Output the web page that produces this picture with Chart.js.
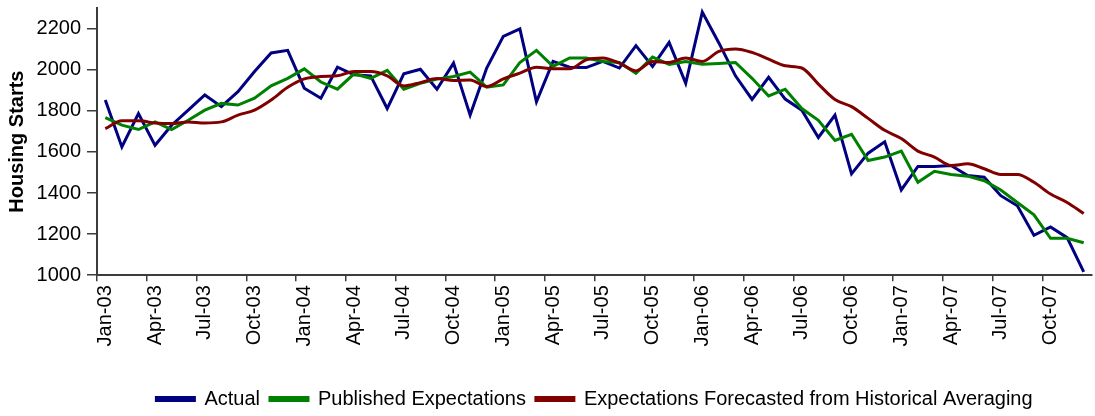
<!DOCTYPE html>
<html>
<head>
<meta charset="utf-8">
<script src="https://cdn.jsdelivr.net/npm/chart.js@4.4.1/dist/chart.umd.min.js"></script>
<style>
  body { margin: 0; background: #fff; }
  #wrap { width: 1095px; height: 416px; position: relative; }
</style>
</head>
<body>
<div id="wrap"><canvas id="housingChart"></canvas></div>
<script>
// monthly categories Jan-03 .. Dec-07
const monthNames = ['Jan', 'Feb', 'Mar', 'Apr', 'May', 'Jun', 'Jul', 'Aug', 'Sep', 'Oct', 'Nov', 'Dec'];
const years = ['03', '04', '05', '06', '07'];
const categories = [];
years.forEach(y => monthNames.forEach(m => categories.push(m + '-' + y)));

const actual = [1852, 1624, 1787, 1632, 1730, 1803, 1877, 1820, 1893, 1991,
  2081, 2094, 1910, 1861, 2012, 1975, 1970, 1811, 1980, 2002,
  1905, 2032, 1779, 2008, 2162, 2198, 1844, 2040, 2012, 2010,
  2040, 2008, 2117, 2016, 2133, 1934, 2280, 2130, 1970, 1855,
  1963, 1857, 1803, 1670, 1779, 1493, 1594, 1649, 1415, 1529,
  1529, 1534, 1485, 1477, 1387, 1338, 1194, 1235, 1183, 1016];

const published = [1767, 1730, 1709, 1746, 1709, 1754, 1803, 1836, 1828, 1861,
  1921, 1958, 2004, 1940, 1905, 1980, 1958, 1997, 1905, 1934,
  1954, 1967, 1988, 1915, 1926, 2035, 2094, 2016, 2057, 2057,
  2040, 2035, 1982, 2061, 2026, 2040, 2026, 2030, 2035, 1958,
  1872, 1905, 1811, 1754, 1656, 1686, 1558, 1575, 1604, 1452,
  1506, 1490, 1482, 1460, 1415, 1354, 1294, 1180, 1180, 1158];

const historical = [1713, 1751, 1751, 1741, 1738, 1746, 1741, 1746, 1779, 1803,
  1852, 1914, 1955, 1967, 1970, 1991, 1991, 1970, 1921, 1937,
  1957, 1947, 1950, 1918, 1955, 1983, 2012, 2004, 2004, 2048,
  2057, 2032, 1994, 2040, 2035, 2057, 2040, 2089, 2101, 2084,
  2051, 2019, 2008, 1930, 1855, 1820, 1763, 1705, 1665, 1604,
  1575, 1534, 1542, 1518, 1490, 1490, 1452, 1395, 1354, 1300];

const seriesNames = ['Actual', 'Published Expectations', 'Expectations Forecasted from Historical Averaging'];
const yTicks = [1000, 1200, 1400, 1600, 1800, 2000, 2200];

const FONT = "'Liberation Sans', Arial, sans-serif";
const axisColor = '#3c3c3c';

// centre the legend under the plot area instead of the whole canvas
const legendUnderPlot = {
  id: 'legendUnderPlot',
  afterLayout(chart) {
    const lg = chart.legend;
    if (!lg) return;
    lg.left = chart.chartArea.left;
    lg.right = chart.chartArea.right;
    lg.width = lg.right - lg.left;
    lg.adjustHitBoxes();
  }
};

const ctx = document.getElementById('housingChart').getContext('2d');
new Chart(ctx, {
  type: 'line',
  data: {
    labels: categories,
    datasets: [
      {
        label: seriesNames[0],
        data: actual,
        borderColor: '#000080',
        backgroundColor: '#000080',
        borderWidth: 3,
        pointRadius: 0,
        tension: 0,
        order: 3
      },
      {
        label: seriesNames[1],
        data: published,
        borderColor: '#008000',
        backgroundColor: '#008000',
        borderWidth: 3,
        pointRadius: 0,
        tension: 0,
        order: 2
      },
      {
        label: seriesNames[2],
        data: historical,
        borderColor: '#800000',
        backgroundColor: '#800000',
        borderWidth: 3,
        pointRadius: 0,
        cubicInterpolationMode: 'monotone',
        order: 1
      }
    ]
  },
  options: {
    responsive: true,
    maintainAspectRatio: false,
    animation: false,
    layout: { padding: { left: 3, top: 8, right: 3, bottom: -3 } },
    plugins: {
      tooltip: { enabled: false },
      legend: {
        position: 'bottom',
        labels: {
          font: { family: FONT, size: 20 },
          color: '#000',
          boxWidth: 38,
          boxHeight: 3,
          padding: 10,
          sort: (a, b) => a.datasetIndex - b.datasetIndex
        }
      }
    },
    scales: {
      x: {
        offset: true,
        afterFit: (axis) => { axis.paddingLeft = 0; axis.paddingRight = 0; },
        grid: {
          offset: true,
          drawOnChartArea: false,
          tickLength: 6,
          color: (c) => (c.index % 3 === 0 ? axisColor : 'rgba(0,0,0,0)'),
          lineWidth: 1.5
        },
        border: { color: axisColor, width: 2 },
        ticks: {
          autoSkip: false,
          minRotation: 90,
          maxRotation: 90,
          padding: 4,
          color: '#000',
          font: { family: FONT, size: 20 },
          callback: (v, i) => (i % 3 === 0 ? categories[i] : '')
        },
        title: { display: true, text: '', padding: { top: 0, bottom: 7 }, font: { size: 18 } }
      },
      y: {
        min: 1000,
        max: 2300,
        afterBuildTicks: (axis) => {
          axis.ticks = yTicks.map(v => ({ value: v }));
        },
        afterFit: (axis) => { axis.width = 94; axis.paddingTop = 0; axis.paddingBottom = 0; },
        grid: {
          drawOnChartArea: false,
          tickLength: 10,
          color: axisColor,
          lineWidth: 1.5
        },
        border: { color: axisColor, width: 2 },
        ticks: {
          padding: 6,
          color: '#000',
          font: { family: FONT, size: 20 },
          callback: (v) => String(v)
        },
        title: {
          display: true,
          text: 'Housing Starts',
          color: '#000',
          font: { family: FONT, size: 20, weight: 'bold' },
          padding: { top: 2, bottom: 2 }
        }
      }
    }
  },
  plugins: [legendUnderPlot]
});
</script>
</body>
</html>
